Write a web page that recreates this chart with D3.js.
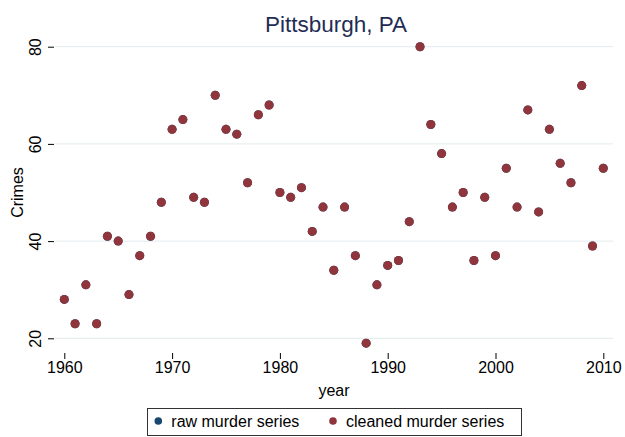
<!DOCTYPE html>
<html>
<head>
<meta charset="utf-8">
<script src="https://cdn.jsdelivr.net/npm/d3@7"></script>
<style>
  html, body { margin: 0; padding: 0; background: #fff; }
  svg { display: block; font-family: "Liberation Sans", Arial, Helvetica, sans-serif; }
</style>
</head>
<body>
<svg id="chart" width="625" height="437"></svg>
<script>
const years = d3.range(1960, 2011);
const cleanedMurder = [28, 23, 31, 23, 41, 40, 29, 37, 41, 48,
                       63, 65, 49, 48, 70, 63, 62, 52, 66, 68,
                       50, 49, 51, 42, 47, 34, 47, 37, 19, 31,
                       35, 36, 44, 80, 64, 58, 47, 50, 36, 49,
                       37, 55, 47, 67, 46, 63, 56, 52, 72, 39,
                       55];
const rawMurder = cleanedMurder.slice();
const xTicks = [1960, 1970, 1980, 1990, 2000, 2010];
const yTicks = [20, 40, 60, 80];
const seriesNames = ["raw murder series", "cleaned murder series"];
const seriesColors = ["#1a476f", "#90353b"];
const titleText = "Pittsburgh, PA";
const xTitle = "year";
const yTitle = "Crimes";

const svg = d3.select("#chart");
const x = d3.scaleLinear().domain([1960, 2010]).range([64.3, 603.3]);
const y = d3.scaleLinear().domain([20, 80]).range([338.3, 46.7]);
const gridX0 = 55, gridX1 = 613;

// gridlines
svg.append("g").selectAll("line").data(yTicks).join("line")
  .attr("x1", gridX0).attr("x2", gridX1)
  .attr("y1", d => y(d)).attr("y2", d => y(d))
  .attr("stroke", "#e1eaec").attr("stroke-width", 1);

// y axis
const yAxis = svg.append("g").attr("transform", "translate(54,0)")
  .call(d3.axisLeft(y).tickValues(yTicks).tickSize(6).tickFormat(d3.format("d")));
yAxis.select(".domain").remove();
yAxis.selectAll(".tick line").attr("stroke", "#000");
yAxis.selectAll(".tick text")
  .attr("x", 0).attr("y", 0).attr("dy", 0)
  .attr("transform", "translate(-13,0) rotate(-90)")
  .attr("text-anchor", "middle")
  .attr("font-size", 16).attr("fill", "#000")
  .attr("font-family", "Liberation Sans, Arial, sans-serif");

// x axis
const xAxis = svg.append("g").attr("transform", "translate(0,353)")
  .call(d3.axisBottom(x).tickValues(xTicks).tickSize(6).tickFormat(d3.format("d")));
xAxis.select(".domain").remove();
xAxis.selectAll(".tick line").attr("stroke", "#000");
xAxis.selectAll(".tick text")
  .attr("y", 20).attr("dy", 0)
  .attr("font-size", 16).attr("fill", "#000")
  .attr("font-family", "Liberation Sans, Arial, sans-serif");

// axis titles
svg.append("text").attr("x", 334).attr("y", 396).attr("text-anchor", "middle")
  .attr("font-size", 16).attr("fill", "#000").text(xTitle);
svg.append("text").attr("transform", "translate(23,192.5) rotate(-90)")
  .attr("text-anchor", "middle").attr("font-size", 16).attr("fill", "#000").text(yTitle);

// title
svg.append("text").attr("x", 336).attr("y", 32).attr("text-anchor", "middle")
  .attr("font-size", 22.5).attr("fill", "#1f2d55").text(titleText);

// points
const series = [rawMurder, cleanedMurder];
series.forEach((vals, i) => {
  svg.append("g").selectAll("circle").data(years).join("circle")
    .attr("cx", (d) => x(d))
    .attr("cy", (d, j) => y(vals[j]))
    .attr("r", 4.5)
    .attr("fill", seriesColors[i]);
});

// legend
const lg = svg.append("g");
lg.append("rect").attr("x", 147.5).attr("y", 408.5).attr("width", 374).attr("height", 27)
  .attr("fill", "#fff").attr("stroke", "#333").attr("stroke-width", 1);
const legendX = [158.3, 333];
seriesNames.forEach((name, i) => {
  lg.append("circle").attr("cx", legendX[i]).attr("cy", 421).attr("r", 3.8).attr("fill", seriesColors[i]);
  lg.append("text").attr("x", legendX[i] + 13).attr("y", 427.3)
    .attr("font-size", 16).attr("fill", "#000").text(name);
});
</script>
</body>
</html>
